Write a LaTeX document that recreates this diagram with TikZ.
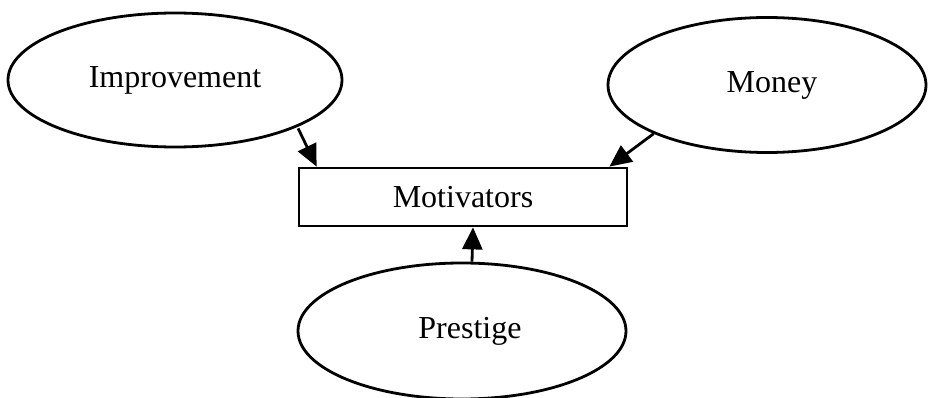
\documentclass[tikz,border=0pt]{standalone}
\usepackage{fontspec}
\setmainfont{Liberation Serif}
\usetikzlibrary{shapes.geometric,arrows.meta}
\begin{document}
\begin{tikzpicture}[x=1pt,y=-1pt,
  oval/.style={ellipse,draw,line width=2.8pt,inner sep=0pt,font=\fontsize{32}{36}\selectfont},
  box/.style={rectangle,draw,line width=2.8pt,inner sep=0pt,minimum width=328pt,minimum height=58pt,font=\fontsize{32}{36}\selectfont},
  arr/.style={line width=2.8pt,-{Triangle[length=22pt,width=20pt]}}]
\useasboundingbox (0,0) rectangle (930,398);
\node[oval,minimum width=334pt,minimum height=134pt] (imp) at (175,80) {Improvement};
\node[oval,minimum width=318pt,minimum height=135pt] (mon) at (767,85) {\hspace*{10pt}Money};
\node[box] (mot) at (463,197) {Motivators};
\node[oval,minimum width=328pt,minimum height=136pt] (pre) at (462,331) {\hspace*{16pt}Prestige};
\draw[arr] ([xshift=4pt]imp.south east) -- ([xshift=19pt]mot.north west);
\draw[arr] (mon.south west) -- ([xshift=-19pt]mot.north east);
\draw[arr] ([xshift=10pt]pre.north) -- ([xshift=10pt]mot.south);
\end{tikzpicture}
\end{document}
